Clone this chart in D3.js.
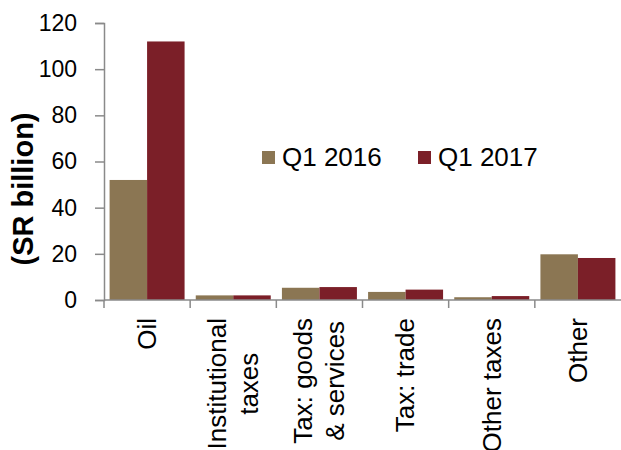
<!DOCTYPE html>
<html>
<head>
<meta charset="utf-8">
<script src="https://cdn.jsdelivr.net/npm/d3@7"></script>
<style>
  html, body { margin: 0; padding: 0; background: #fff; }
  svg { display: block; font-family: "Liberation Sans", Arial, sans-serif; }
</style>
</head>
<body>
<svg id="chart" width="621" height="450"></svg>
<script>
// Government revenue by source, SR billion
const categories = ["Oil", "Institutional\ntaxes", "Tax: goods\n& services", "Tax: trade", "Other taxes", "Other"];
const seriesNames = ["Q1 2016", "Q1 2017"];
const q1_2016 = [52, 2.0, 5.3, 3.5, 1.2, 19.8];
const q1_2017 = [112, 2.0, 5.6, 4.5, 1.7, 18.2];
const yTicks = [0, 20, 40, 60, 80, 100, 120];
const colors = ["#8B7653", "#7B1F28"];

const seriesValues = [q1_2016, q1_2017];
const rows = categories.map((c, i) => ({ cat: c, vals: seriesValues.map(s => s[i]) }));

const svg = d3.select("#chart");
const plot = { left: 104, right: 621, top: 23, bottom: 300 };

const y = d3.scaleLinear().domain([0, 120]).range([plot.bottom, plot.top]);
const x0 = d3.scaleBand().domain(categories).range([plot.left, plot.right]).paddingInner(0).paddingOuter(0);
const x1 = d3.scaleBand().domain(seriesNames).range([0, x0.bandwidth()]).paddingInner(0).paddingOuter(0.149);

// bars
const groups = svg.append("g").selectAll("g").data(rows).join("g")
  .attr("transform", d => `translate(${x0(d.cat)},0)`);
groups.selectAll("rect").data(d => d.vals.map((v, k) => ({ v, k })))
  .join("rect")
  .attr("x", d => x1(seriesNames[d.k]))
  .attr("width", x1.bandwidth())
  .attr("y", d => y(d.v))
  .attr("height", d => y(0) - y(d.v))
  .attr("fill", d => colors[d.k]);

const axisColor = "#8a8a8a";

// y axis
const yAxis = svg.append("g").attr("transform", `translate(${plot.left},0)`)
  .call(d3.axisLeft(y).tickValues(yTicks).tickSize(9).tickPadding(18).tickFormat(d3.format("d")));
yAxis.select(".domain").attr("stroke", axisColor).attr("stroke-width", 1.5);
yAxis.selectAll(".tick line").attr("stroke", axisColor).attr("stroke-width", 1.5);
yAxis.selectAll(".tick text").attr("font-size", 23).attr("fill", "#000")
  .attr("font-family", "Liberation Sans, Arial, sans-serif");

// x axis with ticks at category boundaries
const xAxisG = svg.append("g");
xAxisG.append("line")
  .attr("x1", plot.left).attr("x2", plot.right)
  .attr("y1", y(0)).attr("y2", y(0))
  .attr("stroke", axisColor).attr("stroke-width", 1.5);
const bounds = categories.map(c => x0(c));
xAxisG.selectAll("line.bt").data(bounds).join("line")
  .attr("class", "bt")
  .attr("x1", d => d).attr("x2", d => d)
  .attr("y1", y(0)).attr("y2", y(0) + 8)
  .attr("stroke", axisColor).attr("stroke-width", 1.5);

// rotated category labels
const labelTop = 318;
const lineGap = 32;
const labelSize = 26;
categories.forEach(c => {
  const lines = c.split("\n");
  const cx = x0(c) + x0.bandwidth() / 2;
  const g = svg.append("g");
  const texts = lines.map((ln, i) => g.append("text")
    .attr("font-size", labelSize)
    .attr("text-anchor", "middle")
    .attr("fill", "#000")
    .text(ln));
  const maxLen = d3.max(texts, t => t.node().getComputedTextLength());
  const cy = labelTop + maxLen / 2;
  texts.forEach((t, i) => {
    const lx = cx + (i - (lines.length - 1) / 2) * lineGap + labelSize * 0.34;
    t.attr("transform", `translate(${lx},${cy}) rotate(-90)`);
  });
});

// y axis title
svg.append("text")
  .attr("transform", `translate(33,189) rotate(-90)`)
  .attr("text-anchor", "middle")
  .attr("font-size", 29)
  .attr("font-weight", "bold")
  .attr("fill", "#000")
  .text("(SR billion)");

// legend
const legendX = [262, 418];
const legend = svg.append("g").selectAll("g").data(seriesNames).join("g")
  .attr("transform", (d, i) => `translate(${legendX[i]},151)`);
legend.append("rect").attr("width", 13).attr("height", 13).attr("fill", (d, i) => colors[i]);
legend.append("text").attr("x", 20).attr("y", 15)
  .attr("font-size", 26).attr("fill", "#000").text(d => d);
</script>
</body>
</html>
